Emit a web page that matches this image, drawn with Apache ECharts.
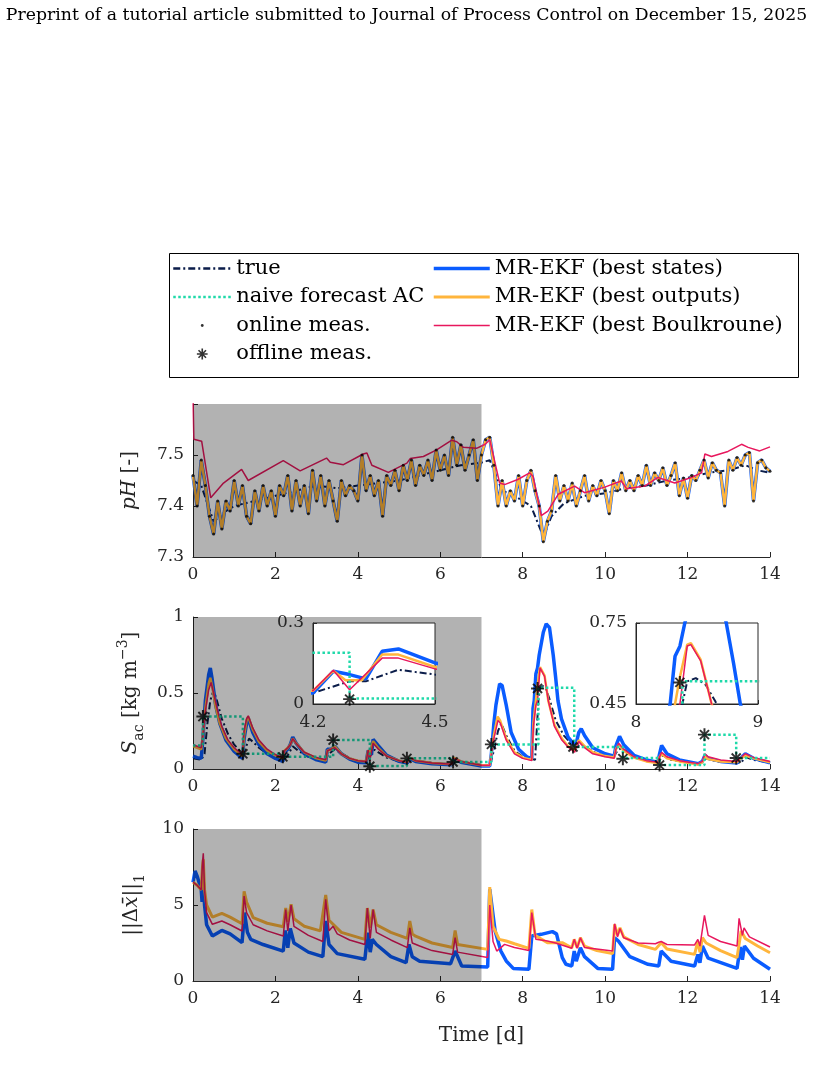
<!DOCTYPE html>
<html>
<head>
<meta charset="utf-8" />
<script src="https://cdn.jsdelivr.net/npm/echarts@6/dist/echarts.min.js"></script>
<style>
  html, body { margin: 0; padding: 0; background: #fff; }
  #chart { width: 813px; height: 1073px; }
</style>
</head>
<body>
<div id="chart"></div>
<script>
// ---- pH panel ----
var pHStep = 0.1;
var pHMeas = [
  7.46, 7.40, 7.49, 7.44, 7.38, 7.345, 7.41, 7.355, 7.41, 7.39,
  7.45, 7.40, 7.44, 7.38, 7.365, 7.43, 7.39, 7.44, 7.40, 7.43,
  7.38, 7.44, 7.42, 7.46, 7.39, 7.45, 7.40, 7.44, 7.385, 7.47,
  7.41, 7.46, 7.40, 7.45, 7.41, 7.37, 7.45, 7.42, 7.44, 7.43,
  7.41, 7.50, 7.43, 7.46, 7.42, 7.45, 7.38, 7.46, 7.44, 7.47,
  7.43, 7.48, 7.45, 7.49, 7.44, 7.48, 7.46, 7.49, 7.45, 7.51,
  7.47, 7.50, 7.46, 7.535, 7.48, 7.52, 7.47, 7.50, 7.53, 7.45,
  7.50, 7.53, 7.535, 7.48, 7.40, 7.45, 7.40, 7.43, 7.41, 7.46,
  7.40, 7.45, 7.47, 7.43, 7.40, 7.33, 7.37, 7.39, 7.46, 7.41,
  7.44, 7.41, 7.445, 7.40, 7.43, 7.46, 7.41, 7.44, 7.42, 7.45,
  7.43, 7.385, 7.45, 7.43, 7.465, 7.43, 7.45, 7.43, 7.46, 7.44,
  7.48, 7.44, 7.465, 7.45, 7.475, 7.44, 7.46, 7.485, 7.42, 7.455,
  7.415, 7.46, 7.45, 7.47, 7.49, 7.455, 7.485, 7.47, 7.465, 7.40,
  7.49, 7.47, 7.495, 7.48, 7.50, 7.505, 7.41, 7.485, 7.49, 7.475,
  7.468
];
var pHTrue = [
  [0, 7.45], [0.2, 7.44], [0.5, 7.37], [0.8, 7.39], [1.0, 7.40], [1.5, 7.41],
  [2.0, 7.42], [2.5, 7.43], [3.0, 7.44], [3.5, 7.435], [4.0, 7.44], [4.5, 7.445],
  [5.0, 7.45], [5.5, 7.46], [6.0, 7.47], [6.5, 7.48], [7.0, 7.485], [7.2, 7.49],
  [7.5, 7.43], [7.8, 7.42], [8.2, 7.40], [8.5, 7.34], [8.7, 7.38], [9.0, 7.405],
  [9.5, 7.42], [10.0, 7.425], [10.5, 7.435], [11.0, 7.44], [11.5, 7.45],
  [12.0, 7.455], [12.5, 7.465], [13.0, 7.47], [13.4, 7.48], [13.7, 7.47], [14, 7.465]
];
var pHBoulk = [
  [0, 7.62], [0.02, 7.531], [0.21, 7.527], [0.43, 7.416], [0.74, 7.445], [1.18, 7.472],
  [1.21, 7.474], [1.34, 7.450], [2.19, 7.489], [2.21, 7.491], [2.60, 7.469],
  [3.24, 7.494], [3.33, 7.486], [3.65, 7.481], [4.13, 7.502], [4.22, 7.504],
  [4.34, 7.480], [4.74, 7.466], [5.19, 7.484], [5.27, 7.493], [5.59, 7.497],
  [5.91, 7.510], [6.28, 7.529], [6.40, 7.526], [6.56, 7.515], [6.88, 7.513],
  [7.09, 7.521], [7.2, 7.53], [7.44, 7.445], [7.56, 7.442], [7.88, 7.452],
  [8.17, 7.465], [8.25, 7.458], [8.45, 7.381], [8.61, 7.390], [8.86, 7.423],
  [9.26, 7.439], [9.5, 7.426], [9.99, 7.437], [10.39, 7.449], [10.52, 7.434],
  [10.96, 7.439], [11.28, 7.456], [11.69, 7.445], [12.09, 7.456], [12.34, 7.465],
  [12.42, 7.502], [12.58, 7.497], [12.98, 7.507], [13.31, 7.521], [13.47, 7.515],
  [13.75, 7.508], [14.0, 7.516]
];

// ---- S_ac panel ----
var sacTrue = [
  [0, 0.07], [0.2, 0.06], [0.28, 0.10], [0.35, 0.30], [0.42, 0.45], [0.5, 0.52],
  [0.58, 0.45], [0.7, 0.33], [0.85, 0.23], [1.0, 0.16], [1.2, 0.10], [1.28, 0.14],
  [1.36, 0.20], [1.45, 0.18], [1.6, 0.14], [1.8, 0.10], [2.0, 0.07], [2.2, 0.06],
  [2.3, 0.09], [2.42, 0.15], [2.55, 0.12], [2.8, 0.08], [3.2, 0.06], [3.3, 0.10],
  [3.44, 0.13], [3.6, 0.10], [3.9, 0.06], [4.2, 0.041], [4.29, 0.084], [4.33, 0.084],
  [4.41, 0.127], [4.5, 0.109], [4.7, 0.075], [5.0, 0.05], [5.2, 0.04], [5.3, 0.06],
  [5.5, 0.05], [6.0, 0.035], [6.3, 0.03], [6.38, 0.055], [6.6, 0.04], [7.2, 0.02],
  [7.3, 0.12], [7.4, 0.25], [7.48, 0.30], [7.6, 0.22], [7.8, 0.12], [8.0, 0.08],
  [8.3, 0.06], [8.36, 0.35], [8.38, 0.45], [8.42, 0.534], [8.49, 0.546], [8.57, 0.522],
  [8.65, 0.46], [8.8, 0.32], [9.0, 0.22], [9.2, 0.16], [9.3, 0.14], [9.4, 0.17],
  [9.5, 0.15], [9.8, 0.10], [10.2, 0.08], [10.3, 0.12], [10.4, 0.14], [10.6, 0.10],
  [11.0, 0.06], [11.3, 0.045], [11.4, 0.09], [11.6, 0.06], [12.3, 0.035], [12.45, 0.07],
  [12.7, 0.05], [13.3, 0.04], [13.4, 0.08], [13.6, 0.06], [14, 0.04]
];
var sacStates = [
  [0, 0.085], [0.1, 0.075], [0.2, 0.07], [0.24, 0.20], [0.3, 0.45], [0.38, 0.62],
  [0.42, 0.665], [0.46, 0.60], [0.55, 0.42], [0.65, 0.30], [0.8, 0.19], [1.0, 0.115],
  [1.2, 0.07], [1.24, 0.20], [1.3, 0.30], [1.34, 0.335], [1.45, 0.24], [1.6, 0.16],
  [1.8, 0.10], [2.0, 0.07], [2.18, 0.05], [2.22, 0.11], [2.3, 0.13], [2.36, 0.16],
  [2.42, 0.21], [2.5, 0.17], [2.7, 0.10], [3.0, 0.06], [3.22, 0.045], [3.26, 0.13],
  [3.35, 0.13], [3.44, 0.15], [3.6, 0.10], [3.8, 0.065], [4.0, 0.045], [4.2, 0.041],
  [4.25, 0.121], [4.29, 0.109], [4.33, 0.093], [4.37, 0.195], [4.41, 0.204], [4.5, 0.152],
  [4.7, 0.09], [5.0, 0.05], [5.2, 0.04], [5.25, 0.07], [5.4, 0.05], [5.8, 0.035],
  [6.28, 0.028], [6.32, 0.07], [6.5, 0.045], [7.0, 0.02], [7.2, 0.02], [7.24, 0.10],
  [7.3, 0.30], [7.35, 0.42], [7.44, 0.56], [7.5, 0.55], [7.6, 0.42], [7.72, 0.24],
  [7.9, 0.13], [8.1, 0.08], [8.22, 0.068], [8.25, 0.40], [8.28, 0.45], [8.32, 0.627],
  [8.36, 0.664], [8.40, 0.75], [8.5, 0.90], [8.57, 0.955], [8.65, 0.93], [8.74, 0.75],
  [8.8, 0.60], [8.855, 0.45], [8.94, 0.33], [9.1, 0.21], [9.26, 0.155], [9.3, 0.17],
  [9.36, 0.24], [9.42, 0.265], [9.5, 0.22], [9.7, 0.14], [10.0, 0.10], [10.22, 0.085],
  [10.26, 0.15], [10.3, 0.18], [10.35, 0.215], [10.45, 0.16], [10.7, 0.09], [11.0, 0.06],
  [11.28, 0.045], [11.32, 0.10], [11.37, 0.155], [11.5, 0.10], [11.8, 0.06], [12.26, 0.035],
  [12.3, 0.045], [12.36, 0.05], [12.42, 0.09], [12.5, 0.07], [12.8, 0.05], [13.2, 0.04],
  [13.25, 0.06], [13.4, 0.10], [13.6, 0.07], [14, 0.04]
];
var sacOutputs = [
  [0, 0.15], [0.1, 0.14], [0.2, 0.13], [0.24, 0.22], [0.3, 0.40], [0.38, 0.56],
  [0.42, 0.60], [0.46, 0.55], [0.55, 0.41], [0.65, 0.30], [0.8, 0.20], [1.0, 0.13],
  [1.2, 0.085], [1.24, 0.22], [1.3, 0.32], [1.34, 0.345], [1.45, 0.26], [1.6, 0.18],
  [1.8, 0.12], [2.0, 0.09], [2.18, 0.07], [2.22, 0.12], [2.3, 0.14], [2.36, 0.16],
  [2.42, 0.20], [2.5, 0.17], [2.7, 0.11], [3.0, 0.07], [3.22, 0.055], [3.26, 0.12],
  [3.35, 0.13], [3.44, 0.15], [3.6, 0.10], [3.8, 0.07], [4.0, 0.055], [4.2, 0.049],
  [4.25, 0.123], [4.28, 0.088], [4.32, 0.088], [4.37, 0.183], [4.41, 0.183], [4.5, 0.137],
  [4.7, 0.085], [5.0, 0.055], [5.2, 0.045], [5.25, 0.075], [5.4, 0.055], [5.8, 0.04],
  [6.28, 0.032], [6.32, 0.075], [6.5, 0.05], [7.0, 0.025], [7.2, 0.025], [7.24, 0.10],
  [7.3, 0.22], [7.39, 0.345], [7.45, 0.32], [7.6, 0.20], [7.8, 0.11], [8.0, 0.075],
  [8.22, 0.06], [8.26, 0.30], [8.32, 0.45], [8.36, 0.55], [8.42, 0.67], [8.45, 0.675],
  [8.53, 0.614], [8.62, 0.45], [8.77, 0.29], [8.95, 0.20], [9.1, 0.15], [9.26, 0.12],
  [9.3, 0.15], [9.36, 0.19], [9.5, 0.15], [9.7, 0.11], [10.0, 0.085], [10.22, 0.075],
  [10.26, 0.13], [10.33, 0.16], [10.45, 0.12], [10.7, 0.075], [11.0, 0.05], [11.28, 0.04],
  [11.32, 0.08], [11.37, 0.10], [11.5, 0.07], [11.8, 0.05], [12.26, 0.03], [12.3, 0.04],
  [12.36, 0.045], [12.42, 0.08], [12.5, 0.065], [12.8, 0.05], [13.2, 0.045], [13.25, 0.06],
  [13.4, 0.09], [13.6, 0.07], [14, 0.045]
];
var sacBoulk = [
  [0, 0.16], [0.1, 0.15], [0.2, 0.14], [0.24, 0.22], [0.3, 0.38], [0.38, 0.52],
  [0.44, 0.57], [0.5, 0.50], [0.6, 0.38], [0.7, 0.28], [0.85, 0.19], [1.0, 0.14],
  [1.2, 0.095], [1.24, 0.25], [1.3, 0.33], [1.34, 0.35], [1.45, 0.27], [1.6, 0.19],
  [1.8, 0.13], [2.0, 0.095], [2.18, 0.075], [2.22, 0.12], [2.3, 0.14], [2.36, 0.16],
  [2.42, 0.20], [2.5, 0.17], [2.7, 0.11], [3.0, 0.075], [3.22, 0.06], [3.26, 0.12],
  [3.35, 0.13], [3.44, 0.14], [3.6, 0.10], [3.8, 0.07], [4.0, 0.055], [4.2, 0.049],
  [4.25, 0.125], [4.29, 0.053], [4.37, 0.17], [4.41, 0.17], [4.5, 0.13], [4.7, 0.085],
  [5.0, 0.055], [5.2, 0.045], [5.25, 0.075], [5.4, 0.055], [5.8, 0.04], [6.28, 0.032],
  [6.32, 0.07], [6.5, 0.05], [7.0, 0.025], [7.2, 0.025], [7.24, 0.10], [7.3, 0.20],
  [7.4, 0.32], [7.46, 0.30], [7.6, 0.19], [7.8, 0.10], [8.0, 0.07], [8.22, 0.055],
  [8.26, 0.28], [8.32, 0.42], [8.36, 0.45], [8.42, 0.665], [8.45, 0.67], [8.53, 0.61],
  [8.62, 0.45], [8.77, 0.28], [8.95, 0.19], [9.1, 0.145], [9.26, 0.11], [9.3, 0.14],
  [9.36, 0.18], [9.5, 0.14], [9.7, 0.10], [10.0, 0.08], [10.22, 0.07], [10.26, 0.13],
  [10.33, 0.17], [10.45, 0.13], [10.7, 0.08], [11.0, 0.055], [11.28, 0.045], [11.32, 0.08],
  [11.37, 0.11], [11.5, 0.08], [11.8, 0.055], [12.26, 0.035], [12.3, 0.045], [12.36, 0.05],
  [12.42, 0.10], [12.5, 0.08], [12.8, 0.06], [13.2, 0.05], [13.25, 0.065], [13.4, 0.10],
  [13.6, 0.075], [14, 0.05]
];
var offlineTimes = [0.24, 1.21, 2.18, 3.40, 4.29, 5.19, 6.31, 7.24, 8.36, 9.22, 10.43, 11.32, 12.41, 13.18];
var offlineVals = [0.345, 0.10, 0.08, 0.19, 0.018, 0.07, 0.046, 0.162, 0.53, 0.145, 0.068, 0.026, 0.226, 0.072];
var naiveTimes = [0, 0.24, 1.21, 2.18, 3.40, 4.29, 5.19, 6.31, 7.24, 8.38, 9.25, 10.43, 11.32, 12.41, 13.18, 14];
var naiveVals = [0.155, 0.345, 0.10, 0.08, 0.19, 0.02, 0.07, 0.046, 0.162, 0.534, 0.145, 0.072, 0.026, 0.226, 0.072, 0.072];

// ---- ||dx||_1 panel ----
var errStates = [
  [0, 6.5], [0.05, 7.24], [0.1, 6.9], [0.2, 6.0], [0.22, 5.2], [0.25, 6.5], [0.28, 5.0],
  [0.33, 3.7], [0.47, 2.96], [0.7, 3.33], [0.9, 3.1], [1.19, 2.52], [1.25, 4.5], [1.32, 3.2],
  [1.4, 2.74], [1.7, 2.4], [2.19, 1.97], [2.24, 3.33], [2.3, 2.19], [2.36, 3.46], [2.45, 2.5],
  [2.8, 1.9], [3.15, 1.6], [3.22, 3.95], [3.3, 2.4], [3.5, 1.8], [4.17, 1.43], [4.24, 3.18],
  [4.3, 1.9], [4.35, 2.74], [4.45, 2.4], [4.8, 1.6], [5.17, 1.21], [5.24, 2.41], [5.32, 1.6],
  [5.5, 1.3], [6.25, 1.14], [6.36, 1.97], [6.52, 0.99], [7.15, 0.92], [7.2, 6.03], [7.33, 3.29],
  [7.47, 1.97], [7.6, 1.32], [7.77, 0.83], [8.15, 0.77], [8.22, 2.96], [8.45, 3.07], [8.72, 3.25],
  [8.82, 3.1], [8.96, 1.54], [9.05, 1.1], [9.19, 0.99], [9.25, 1.97], [9.3, 1.3], [9.4, 2.19],
  [9.5, 1.6], [9.82, 0.83], [10.18, 0.77], [10.23, 2.85], [10.32, 2.63], [10.6, 1.6], [11.04, 1.1],
  [11.3, 0.99], [11.36, 1.97], [11.6, 1.3], [12.17, 0.99], [12.25, 1.75], [12.3, 1.2], [12.36, 2.3],
  [12.5, 1.5], [13.2, 0.83], [13.28, 2.24], [13.33, 1.4], [13.38, 2.3], [13.6, 1.5], [14, 0.77]
];
var errOutputs = [
  [0, 6.5], [0.1, 6.3], [0.2, 6.0], [0.23, 7.5], [0.25, 8.0], [0.28, 6.0], [0.33, 5.0],
  [0.47, 4.2], [0.7, 4.45], [0.9, 4.2], [1.19, 3.77], [1.24, 5.9], [1.3, 5.2], [1.46, 4.17],
  [1.8, 3.8], [2.19, 3.57], [2.25, 4.8], [2.3, 3.9], [2.38, 5.05], [2.45, 4.1], [2.7, 3.6],
  [3.09, 3.3], [3.22, 5.66], [3.3, 4.0], [3.6, 3.2], [4.17, 2.74], [4.23, 4.8], [4.3, 3.5],
  [4.37, 4.7], [4.45, 3.7], [4.8, 3.2], [5.2, 2.8], [5.26, 3.95], [5.32, 3.1], [5.4, 2.95],
  [5.8, 2.5], [6.3, 2.2], [6.36, 3.33], [6.42, 2.4], [7.15, 2.08], [7.2, 6.18], [7.28, 3.6],
  [7.43, 2.74], [7.6, 2.63], [7.8, 2.45], [8.15, 2.15], [8.22, 4.7], [8.3, 3.0], [8.6, 2.52],
  [8.96, 2.52], [9.19, 2.19], [9.25, 2.74], [9.32, 2.2], [9.4, 2.85], [9.5, 2.3], [9.8, 2.0],
  [10.18, 1.8], [10.23, 3.73], [10.3, 3.0], [10.36, 3.5], [10.45, 2.9], [10.8, 2.4], [11.22, 2.08],
  [11.36, 2.52], [11.5, 2.1], [12.17, 1.75], [12.25, 2.63], [12.3, 1.9], [12.36, 2.85], [12.45, 2.5],
  [12.8, 2.0], [13.2, 1.54], [13.3, 3.29], [13.4, 2.8], [13.7, 2.3], [14, 1.86]
];
var errBoulk = [
  [0, 6.5], [0.1, 6.3], [0.2, 6.0], [0.23, 7.8], [0.25, 8.4], [0.28, 6.0], [0.33, 4.5],
  [0.47, 3.73], [0.7, 3.95], [0.9, 3.7], [1.19, 3.29], [1.24, 5.59], [1.3, 4.5], [1.46, 3.7],
  [1.8, 3.3], [2.19, 2.96], [2.25, 4.7], [2.3, 3.3], [2.38, 5.0], [2.45, 3.6], [2.8, 3.0],
  [3.15, 2.6], [3.22, 5.37], [3.3, 3.3], [3.4, 3.6], [3.5, 3.1], [3.8, 2.7], [4.17, 2.4],
  [4.23, 4.8], [4.3, 2.8], [4.37, 4.7], [4.45, 3.2], [4.8, 2.7], [5.2, 2.2], [5.26, 3.5],
  [5.32, 2.5], [5.5, 2.3], [5.8, 2.0], [6.3, 1.75], [6.36, 2.85], [6.42, 1.9], [7.15, 1.54],
  [7.2, 5.0], [7.28, 2.6], [7.37, 1.97], [7.56, 2.41], [7.8, 2.2], [8.15, 2.0], [8.22, 4.5],
  [8.32, 2.74], [8.6, 2.63], [8.8, 2.5], [9.19, 2.15], [9.25, 2.74], [9.32, 2.15], [9.4, 2.85],
  [9.5, 2.2], [10.18, 1.97], [10.23, 3.77], [10.3, 2.9], [10.36, 3.46], [10.45, 2.85], [10.8, 2.5],
  [11.22, 2.45], [11.3, 2.55], [11.36, 2.6], [11.5, 2.4], [12.17, 2.37], [12.25, 2.74], [12.3, 2.3],
  [12.41, 4.32], [12.5, 3.0], [12.8, 2.6], [13.2, 2.3], [13.25, 4.12], [13.33, 3.0], [13.37, 3.5],
  [13.5, 2.9], [14, 2.24]
];

var FONT = 'DejaVu Serif';
var INK = '#262626';
var C_TRUE = '#0b1d4a', C_NAIVE = '#1fd9a9', C_STATES = '#0a5cff', C_OUT = '#ffb53c', C_BOULK = '#e8175d';
var STAR = 'M8.5 0L11.5 0L11.5 20L8.5 20Z M0 8.5L20 8.5L20 11.5L0 11.5Z M2 4.1L4.1 2L18 15.9L15.9 18Z M15.9 2L18 4.1L4.1 18L2 15.9Z';
var ASTERISK = 'path://' + STAR;
// legend icons: padded so they stay small inside the legend item box
var ASTERISK_ICON = 'path://M-3 -3M23 23' + STAR;
var DOT_ICON = 'path://M0 0M20 20M12 10A2 2 0 1 1 8 10A2 2 0 1 1 12 10Z';

var pHData = pHMeas.map(function (v, i) { return [+(i * pHStep).toFixed(1), v]; });
var offlineData = offlineTimes.map(function (t, i) { return [t, offlineVals[i]]; });
var naiveData = naiveTimes.map(function (t, i) { return [t, naiveVals[i]]; });

var shade = {
  silent: true, z: 10,
  itemStyle: { color: 'rgba(0,0,0,0.3)', borderWidth: 0 },
  label: { show: false },
  data: [[{ xAxis: 0 }, { xAxis: 7 }]]
};

function mkAxis(opt) {
  var inset = opt.inset;
  return {
    type: 'value', gridIndex: opt.grid, min: opt.min, max: opt.max, interval: opt.interval,
    z: inset ? 16 : 0,
    axisLine: { show: true, onZero: false, lineStyle: { color: INK, width: 1 } },
    axisTick: { show: true, inside: true, length: inset ? 4 : 5, lineStyle: { color: INK } },
    axisLabel: { color: INK, fontFamily: FONT, fontSize: 17, margin: opt.margin || 9, formatter: opt.formatter },
    splitLine: { show: false },
    name: opt.name, nameLocation: 'middle', nameGap: opt.nameGap, nameRotate: opt.nameRotate,
    nameTextStyle: opt.nameStyle
  };
}

function ln(name, data, color, width, g, extra) {
  var s = {
    type: 'line', name: name, data: data, xAxisIndex: g, yAxisIndex: g,
    symbol: 'none', animation: false, z: g >= 3 ? 17 : 2,
    lineStyle: { color: color, width: width }, itemStyle: { color: color }
  };
  for (var k in extra) s[k] = extra[k];
  return s;
}
function trueLine(data, g, extra) {
  return ln('true', data, C_TRUE, 2, g, Object.assign({ lineStyle: { color: C_TRUE, width: 2, type: [7, 3, 2, 3] } }, extra));
}
function naiveLine(g) {
  return ln('naive forecast AC', naiveData, C_NAIVE, 2.5, g, { step: 'end', lineStyle: { color: C_NAIVE, width: 2.5, type: [2.5, 2.5] } });
}
function offline(g) {
  return { type: 'scatter', name: 'offline meas.', data: offlineData, xAxisIndex: g, yAxisIndex: g,
    symbol: ASTERISK, symbolSize: 13, symbolKeepAspect: true, itemStyle: { color: '#000' },
    animation: false, z: g >= 3 ? 17 : 2 };
}

var nameStyle = { fontFamily: FONT, fontSize: 20, color: INK,
  rich: {
    i: { fontFamily: FONT, fontSize: 20, fontStyle: 'italic', color: INK, lineHeight: 30 },
    n: { fontFamily: FONT, fontSize: 20, color: INK, lineHeight: 30 },
    sub: { fontFamily: FONT, fontSize: 14, color: INK, verticalAlign: 'bottom', lineHeight: 14 },
    sup: { fontFamily: FONT, fontSize: 14, color: INK, verticalAlign: 'top', lineHeight: 14 }
  }
};

var grids = [
  { left: 193, top: 404, width: 577, height: 153 },
  { left: 193, top: 617, width: 577, height: 152 },
  { left: 193, top: 829, width: 577, height: 152 },
  { left: 313, top: 623, width: 122, height: 81, show: true, backgroundColor: '#fff', borderColor: INK, borderWidth: 1, z: 15 },
  { left: 636, top: 623, width: 122, height: 81, show: true, backgroundColor: '#fff', borderColor: INK, borderWidth: 1, z: 15 }
];

var noSymbol = { opacity: 0 };
var legendBase = {
  orient: 'vertical', itemWidth: 58, itemHeight: 14, itemGap: 7.5, padding: 0,
  selectedMode: false, symbolKeepAspect: true,
  textStyle: { fontFamily: FONT, fontSize: 21, color: '#000', lineHeight: 20 }
};

var option = {
  animation: false,
  backgroundColor: '#fff',
  title: {
    text: 'Preprint of a tutorial article submitted to Journal of Process Control on December 15, 2025',
    left: 'center', top: 2,
    textStyle: { fontFamily: FONT, fontSize: 17.3, fontWeight: 'normal', color: '#000' }
  },
  graphic: [{
    type: 'rect', left: 167, top: 251, shape: { width: 629, height: 124 },
    style: { fill: 'none', stroke: '#000', lineWidth: 1 }, z: 0
  }],
  legend: [
    Object.assign({}, legendBase, {
      left: 172, top: 258,
      data: [
        { name: 'true', itemStyle: noSymbol, lineStyle: { width: 2.5 } },
        { name: 'naive forecast AC', itemStyle: noSymbol, lineStyle: { width: 2.5 } },
        { name: 'online meas.', icon: DOT_ICON },
        { name: 'offline meas.', icon: ASTERISK_ICON }
      ]
    }),
    Object.assign({}, legendBase, {
      left: 432, top: 258, itemWidth: 56,
      data: [
        { name: 'MR-EKF (best states)', itemStyle: noSymbol, lineStyle: { width: 3.5 } },
        { name: 'MR-EKF (best outputs)', itemStyle: noSymbol, lineStyle: { width: 3 } },
        { name: 'MR-EKF (best Boulkroune)', itemStyle: noSymbol, lineStyle: { width: 1.5 } }
      ]
    })
  ],
  grid: grids,
  xAxis: [
    mkAxis({ grid: 0, min: 0, max: 14, interval: 2 }),
    mkAxis({ grid: 1, min: 0, max: 14, interval: 2 }),
    mkAxis({ grid: 2, min: 0, max: 14, interval: 2, name: 'Time [d]', nameGap: 45,
      nameStyle: { fontFamily: FONT, fontSize: 20, color: INK } }),
    mkAxis({ grid: 3, min: 4.2, max: 4.5, interval: 0.3, inset: true, margin: 10 }),
    mkAxis({ grid: 4, min: 8, max: 9, interval: 1, inset: true, margin: 10 })
  ],
  yAxis: [
    mkAxis({ grid: 0, min: 7.3, max: 7.6, interval: 0.1,
      formatter: function (v) { return v > 7.55 ? '' : v.toFixed(1); },
      name: '{i|pH}{n| [-]}', nameGap: 48, nameRotate: 90, nameStyle: nameStyle }),
    mkAxis({ grid: 1, min: 0, max: 1, interval: 0.5,
      name: '{i|S}{sub|ac}{n| [kg m}{sup|\u22123}{n|]}', nameGap: 46, nameRotate: 90, nameStyle: nameStyle }),
    mkAxis({ grid: 2, min: 0, max: 10, interval: 5,
      name: '{n|||\u0394}{i|x\u0304}{n|||}{sub|1}', nameGap: 46, nameRotate: 90, nameStyle: nameStyle }),
    mkAxis({ grid: 3, min: 0, max: 0.3, interval: 0.3, inset: true }),
    mkAxis({ grid: 4, min: 0.45, max: 0.75, interval: 0.3, inset: true })
  ],
  series: [
    // pH
    trueLine(pHTrue, 0, { markArea: shade }),
    { type: 'scatter', name: 'online meas.', data: pHData, xAxisIndex: 0, yAxisIndex: 0,
      symbol: 'circle', symbolSize: 3, itemStyle: { color: '#000' }, animation: false, z: 2 },
    ln('MR-EKF (best states)', pHData, C_STATES, 3.5, 0),
    ln('MR-EKF (best outputs)', pHData, C_OUT, 2.5, 0),
    ln('MR-EKF (best Boulkroune)', pHBoulk, C_BOULK, 1.5, 0),
    // S_ac
    trueLine(sacTrue, 1, { markArea: shade }),
    ln('MR-EKF (best states)', sacStates, C_STATES, 3.5, 1),
    ln('MR-EKF (best outputs)', sacOutputs, C_OUT, 2.5, 1),
    ln('MR-EKF (best Boulkroune)', sacBoulk, C_BOULK, 1.5, 1),
    naiveLine(1),
    offline(1),
    // ||dx||_1
    ln('MR-EKF (best states)', errStates, C_STATES, 3.5, 2, { markArea: shade }),
    ln('MR-EKF (best outputs)', errOutputs, C_OUT, 3, 2),
    ln('MR-EKF (best Boulkroune)', errBoulk, C_BOULK, 1.5, 2),
    // insets
    trueLine(sacTrue, 3),
    ln('MR-EKF (best states)', sacStates, C_STATES, 3.5, 3),
    ln('MR-EKF (best outputs)', sacOutputs, C_OUT, 2.5, 3),
    ln('MR-EKF (best Boulkroune)', sacBoulk, C_BOULK, 1.5, 3),
    naiveLine(3),
    offline(3),
    trueLine(sacTrue, 4),
    ln('MR-EKF (best states)', sacStates, C_STATES, 3.5, 4),
    ln('MR-EKF (best outputs)', sacOutputs, C_OUT, 2.5, 4),
    ln('MR-EKF (best Boulkroune)', sacBoulk, C_BOULK, 1.5, 4),
    naiveLine(4),
    offline(4)
  ]
};

var chart = echarts.init(document.getElementById('chart'), null, { renderer: 'canvas' });
chart.setOption(option);
</script>
</body>
</html>
